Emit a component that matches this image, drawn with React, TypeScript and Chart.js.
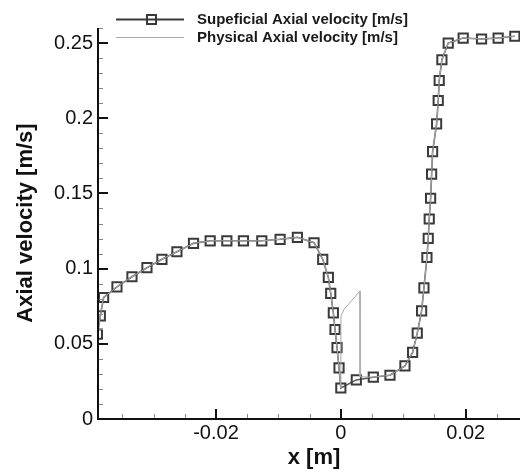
import React, { useEffect, useRef } from "react";
import { Chart, registerables } from "chart.js";

Chart.register(...registerables);

// Superficial axial velocity (markers)
const superX = [
  -0.039, -0.03853, -0.038, -0.03586, -0.03346, -0.03106, -0.02866, -0.02626, -0.0236, -0.02093,
  -0.01826, -0.0156, -0.01266, -0.00973, -0.00696, -0.00429, -0.0029, -0.002, -0.00162, -0.0012,
  -0.00093, -0.00061, -0.00029, 0.0, 0.00248, 0.0052, 0.00787, 0.01027, 0.0115, 0.01224,
  0.01294, 0.01331, 0.01379, 0.014, 0.01416, 0.01438, 0.01454, 0.0147, 0.01534, 0.0156,
  0.01576, 0.01619, 0.0172, 0.0196, 0.02254, 0.0252, 0.02787,
];
const superY = [
  0.0564, 0.0686, 0.0808, 0.0879, 0.0946, 0.1006, 0.1062, 0.1112, 0.1168, 0.1185,
  0.1185, 0.1185, 0.1185, 0.1195, 0.1208, 0.1172, 0.1062, 0.0942, 0.0835, 0.0706,
  0.0595, 0.0475, 0.034, 0.0206, 0.026, 0.0278, 0.0291, 0.0353, 0.0443, 0.0571,
  0.0719, 0.0872, 0.1074, 0.1201, 0.133, 0.1468, 0.1628, 0.1778, 0.1963, 0.2118,
  0.2251, 0.2389, 0.25, 0.2533, 0.2527, 0.2533, 0.2545,
];

// Physical axial velocity (thin line): differs only in the porous zone near x = 0
const physX = [
  -0.039, -0.03853, -0.038, -0.03586, -0.03346, -0.03106, -0.02866, -0.02626, -0.0236, -0.02093,
  -0.01826, -0.0156, -0.01266, -0.00973, -0.00696, -0.00429, -0.0029, -0.002, -0.00162, -0.0012,
  -0.00093, -0.00061, -0.00029, 0.0, 0.00001, 0.00051, 0.00307, 0.00308, 0.0052, 0.00787,
  0.01027, 0.0115, 0.01224, 0.01294, 0.01331, 0.01379, 0.014, 0.01416, 0.01438, 0.01454,
  0.0147, 0.01534, 0.0156, 0.01576, 0.01619, 0.0172, 0.0196, 0.02254, 0.0252, 0.02787,
];
const physY = [
  0.0564, 0.0686, 0.0808, 0.0879, 0.0946, 0.1006, 0.1062, 0.1112, 0.1168, 0.1185,
  0.1185, 0.1185, 0.1185, 0.1195, 0.1208, 0.1172, 0.1062, 0.0942, 0.0835, 0.0706,
  0.0595, 0.0475, 0.034, 0.0206, 0.0684, 0.0729, 0.0852, 0.0281, 0.0278, 0.0291,
  0.0353, 0.0443, 0.0571, 0.0719, 0.0872, 0.1074, 0.1201, 0.133, 0.1468, 0.1628,
  0.1778, 0.1963, 0.2118, 0.2251, 0.2389, 0.25, 0.2533, 0.2527, 0.2533, 0.2545,
];

const xMajorTicks = [-0.02, 0, 0.02];
const xTickLabels = ["-0.02", "0", "0.02"];
const xMinorTicks = [-0.035, -0.03, -0.025, -0.015, -0.01, -0.005, 0.005, 0.01, 0.015, 0.025];
const yMajorTicks = [0, 0.05, 0.1, 0.15, 0.2, 0.25];
const yTickLabels = ["0", "0.05", "0.1", "0.15", "0.2", "0.25"];
const yMinorTicks = [
  0.01, 0.02, 0.03, 0.04, 0.06, 0.07, 0.08, 0.09, 0.11, 0.12, 0.13, 0.14,
  0.16, 0.17, 0.18, 0.19, 0.21, 0.22, 0.23, 0.24, 0.26,
];

const seriesNames = ["Supeficial Axial velocity [m/s]", "Physical Axial velocity [m/s]"];
const xTitle = "x [m]";
const yTitle = "Axial velocity [m/s]";

const FONT = "'Liberation Sans', Arial, Helvetica, sans-serif";
const DARK = "#3a3a3a";
const LINE = "#5a5a5a";
const LIGHT = "#a8a8a8";

const decorPlugin = {
  id: "decor",
  afterDatasetsDraw(chart: any) {
    const ctx = chart.ctx as CanvasRenderingContext2D;
    const area = chart.chartArea;
    const xs = chart.scales.x;
    const ys = chart.scales.y;
    ctx.save();
    // minor ticks
    ctx.strokeStyle = "#8a8a8a";
    ctx.lineWidth = 1;
    ctx.beginPath();
    xMinorTicks.forEach((v) => {
      const px = Math.round(xs.getPixelForValue(v)) + 0.5;
      ctx.moveTo(px, area.bottom);
      ctx.lineTo(px, area.bottom - 5);
    });
    yMinorTicks.forEach((v) => {
      const py = Math.round(ys.getPixelForValue(v)) + 0.5;
      ctx.moveTo(area.left, py);
      ctx.lineTo(area.left + 5, py);
    });
    ctx.stroke();
    // major ticks
    ctx.strokeStyle = "#111";
    ctx.lineWidth = 2;
    ctx.beginPath();
    xMajorTicks.forEach((v) => {
      const px = Math.round(xs.getPixelForValue(v));
      ctx.moveTo(px, area.bottom);
      ctx.lineTo(px, area.bottom - 10);
    });
    yMajorTicks.forEach((v) => {
      const py = Math.round(ys.getPixelForValue(v));
      ctx.moveTo(area.left, py);
      ctx.lineTo(area.left + 10, py);
    });
    ctx.stroke();
    // axis lines
    ctx.beginPath();
    ctx.moveTo(area.left, area.top);
    ctx.lineTo(area.left, area.bottom);
    ctx.lineTo(area.right, area.bottom);
    ctx.stroke();

    // titles
    ctx.fillStyle = "#111";
    ctx.font = `bold 22px ${FONT}`;
    ctx.textAlign = "center";
    ctx.textBaseline = "alphabetic";
    ctx.fillText(xTitle, 314, 464);
    ctx.save();
    ctx.translate(32, 223);
    ctx.rotate(-Math.PI / 2);
    ctx.fillText(yTitle, 0, 0);
    ctx.restore();

    // legend
    ctx.strokeStyle = DARK;
    ctx.lineWidth = 2;
    ctx.beginPath();
    ctx.moveTo(116, 19.5);
    ctx.lineTo(184, 19.5);
    ctx.stroke();
    ctx.strokeRect(147, 15, 9, 9);
    ctx.strokeStyle = LIGHT;
    ctx.lineWidth = 1;
    ctx.beginPath();
    ctx.moveTo(116, 37.5);
    ctx.lineTo(184, 37.5);
    ctx.stroke();
    ctx.fillStyle = "#1a1a1a";
    ctx.font = `bold 15px ${FONT}`;
    ctx.textAlign = "left";
    ctx.textBaseline = "middle";
    ctx.fillText(seriesNames[0], 197, 19.5);
    ctx.fillText(seriesNames[1], 197, 37.5);
    ctx.restore();
  },
};

export default function App() {
  const ref = useRef<HTMLCanvasElement>(null);

  useEffect(() => {
    document.body.style.margin = "0";
    const canvas = ref.current;
    if (!canvas) return;
    const chart = new Chart(canvas, {
      type: "line",
      data: {
        datasets: [
          {
            label: seriesNames[0],
            data: superX.map((x, i) => ({ x, y: superY[i] })),
            borderColor: LINE,
            borderWidth: 1.6,
            pointStyle: "rect",
            pointRadius: 6.5,
            pointBorderWidth: 2,
            pointBorderColor: DARK,
            pointBackgroundColor: "rgba(0,0,0,0)",
            tension: 0,
            order: 1,
          },
          {
            label: seriesNames[1],
            data: physX.map((x, i) => ({ x, y: physY[i] })),
            borderColor: LIGHT,
            borderWidth: 1,
            pointRadius: 0,
            tension: 0,
            order: 0,
          },
        ],
      },
      options: {
        animation: false,
        responsive: false,
        devicePixelRatio: 1,
        layout: { autoPadding: false, padding: { top: 28, right: 0, left: 0, bottom: 0 } },
        plugins: {
          legend: { display: false },
          tooltip: { enabled: false },
          title: { display: false },
        },
        scales: {
          x: {
            type: "linear",
            min: -0.0389,
            max: 0.0287,
            grid: { display: false, drawTicks: false },
            border: { display: false },
            afterFit: (s: any) => {
              s.height = 53;
            },
            afterBuildTicks: (s: any) => {
              s.ticks = xMajorTicks.map((v) => ({ value: v }));
            },
            ticks: {
              padding: 2,
              color: "#111",
              font: { family: FONT, size: 20 },
              maxRotation: 0,
              callback: (v: any) => {
                const i = xMajorTicks.findIndex((t) => Math.abs(t - Number(v)) < 1e-9);
                return i >= 0 ? xTickLabels[i] : "";
              },
            },
          },
          y: {
            type: "linear",
            min: 0,
            max: 0.26,
            grid: { display: false, drawTicks: false },
            border: { display: false },
            afterFit: (s: any) => {
              s.width = 98;
            },
            afterBuildTicks: (s: any) => {
              s.ticks = yMajorTicks.map((v) => ({ value: v }));
            },
            ticks: {
              padding: 5,
              color: "#111",
              font: { family: FONT, size: 20 },
              callback: (v: any) => {
                const i = yMajorTicks.findIndex((t) => Math.abs(t - Number(v)) < 1e-9);
                return i >= 0 ? yTickLabels[i] : "";
              },
            },
          },
        },
      },
      plugins: [decorPlugin],
    });
    return () => chart.destroy();
  }, []);

  return (
    <div style={{ position: "absolute", left: 0, top: 0, width: 520, height: 472, background: "#fff" }}>
      <canvas ref={ref} width={520} height={472} />
    </div>
  );
}
